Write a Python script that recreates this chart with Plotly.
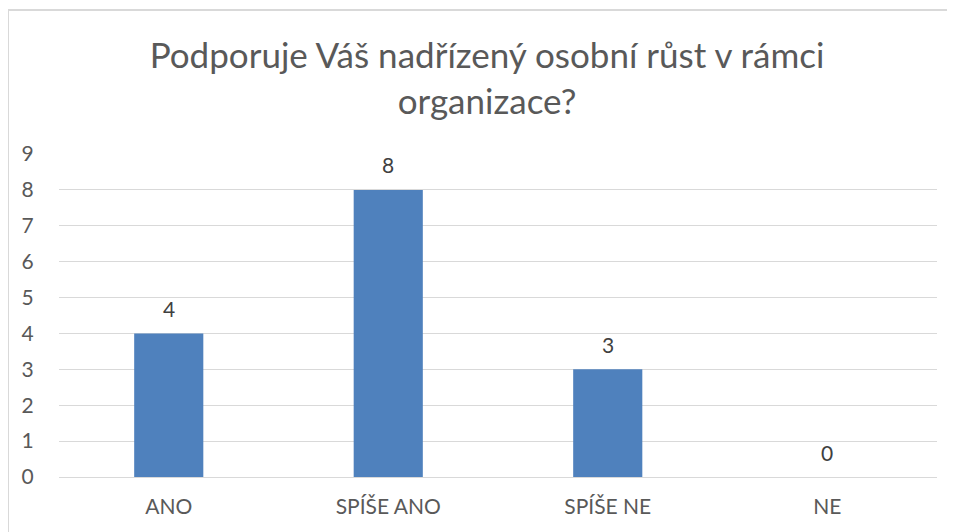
import plotly.graph_objects as go

categories = ["ANO", "SPÍŠE ANO", "SPÍŠE NE", "NE"]
values = [4, 8, 3, 0]
y_ticks = [0, 1, 2, 3, 4, 5, 6, 7, 8, 9]

title_text = "Podporuje Váš nadřízený osobní růst v rámci<br>organizace?"

FONT = "Lato"
GREY = "#595959"
BAR = "#4F81BD"

W, H = 955, 532
L, T, R, B = 51, 146, 26, 63
PW, PH = W - L - R, H - T - B

fig = go.Figure()
fig.add_trace(go.Bar(
    x=categories, y=values,
    marker=dict(color=BAR, line=dict(width=0)),
    width=0.315,
    hoverinfo="x+y",
))

for c, v in zip(categories, values):
    fig.add_annotation(
        x=c, y=v, text=str(v), showarrow=False,
        yanchor="middle", yshift=25,
        font=dict(family=FONT, size=21, color="#404040"),
    )

# chart border (Excel-like frame): left and top edges visible
bx0 = (0 - L) / PW
bx1 = (W + 20 - L) / PW
by0 = (PH + T - (H + 20)) / PH
by1 = (PH + T - 2) / PH
border = dict(color="#D9D9D9", width=2)
fig.add_shape(type="line", xref="paper", yref="paper",
              x0=bx0, x1=bx0, y0=by0, y1=by1, line=border, layer="below")
fig.add_shape(type="line", xref="paper", yref="paper",
              x0=bx0, x1=bx1, y0=by1, y1=by1, line=border, layer="below")

fig.update_layout(
    width=W, height=H,
    margin=dict(l=L, r=R, t=T, b=B),
    paper_bgcolor="white", plot_bgcolor="white",
    showlegend=False,
    title=dict(
        text=title_text, x=(L + 428) / W, xanchor="center",
        y=(H - 60) / H, yanchor="middle",
        font=dict(family=FONT, size=35, color=GREY),
    ),
    font=dict(family=FONT, color=GREY),
)

fig.update_xaxes(
    type="category", showgrid=False, showline=False,
    ticks="outside", ticklen=11, tickcolor="rgba(0,0,0,0)",
    tickfont=dict(family=FONT, size=21, color=GREY),
)
fig.update_yaxes(
    range=[0, 9], tickvals=y_ticks, showgrid=True,
    gridcolor="#D9D9D9", gridwidth=1.3,
    zeroline=True, zerolinecolor="#D9D9D9", zerolinewidth=1.3,
    showline=False,
    ticks="outside", ticklen=20, tickcolor="rgba(0,0,0,0)",
    tickfont=dict(family=FONT, size=21, color=GREY),
)

fig.write_html("out.html")
